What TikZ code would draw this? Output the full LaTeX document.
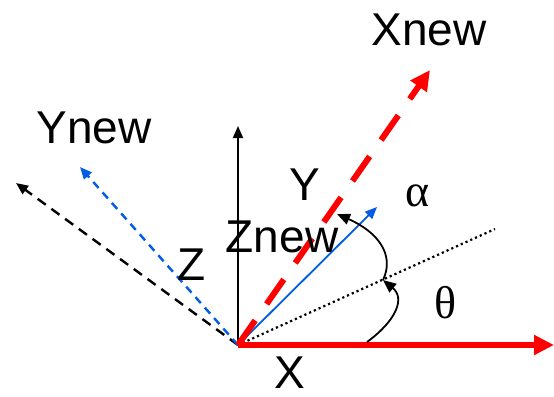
\documentclass[tikz,border=0pt]{standalone}
\usepackage{fontspec}
\setmainfont{Liberation Sans}
\newfontfamily\greekserif{Liberation Serif}
\usetikzlibrary{arrows.meta}
\tikzset{
  lbl/.style={font=\fontsize{46bp}{50bp}\selectfont, inner sep=0pt, text=black},
  glbl/.style={font=\greekserif\fontsize{46bp}{50bp}\selectfont, inner sep=0pt, text=black},
  thinarrow/.style={-{Triangle[length=12bp,width=10bp]}},
  redarrow/.style={red, line width=6bp, -{Triangle[length=20bp,width=19bp]}},
  anglearc/.style={black, line width=1.8bp, -{Triangle[length=13bp,width=11bp]}}
}
\begin{document}
\begin{tikzpicture}[x=1bp,y=-1bp]
\useasboundingbox (0,0) rectangle (554,396);
\coordinate (O) at (238,345);
\coordinate (xe) at (554,345);
\coordinate (xn) at (430,70);
\coordinate (zn) at (238,126);
\coordinate (yn) at (80,167);
\coordinate (z) at (16,183);
\coordinate (y) at (377,207);
\coordinate (d) at (495,229);
\coordinate (t1) at (367,342);
\coordinate (t2) at (383,280);
\coordinate (a2) at (337,214);

\draw[thinarrow, line width=1.8bp, black] (O) -- (zn);
\draw[thinarrow, line width=2.4bp, black, dash pattern=on 10bp off 7bp] (O) -- (z);
\draw[thinarrow, line width=2.4bp, blue!60!cyan!90!black, dash pattern=on 8bp off 6bp] (O) -- (yn);
\draw[line width=2.2bp, black, dash pattern=on 2.2bp off 3bp] (O) -- (d);
\draw[thinarrow, line width=1.8bp, blue!60!cyan!90!black] (O) -- (y);
\draw[redarrow] (O) -- (xe);
\draw[redarrow, dash pattern=on 30bp off 20bp] (O) -- (xn);
\draw[anglearc] (t1) .. controls (397,320) and (405,298) .. (t2);
\draw[anglearc] (t2) .. controls (395,255) and (378,232) .. (a2);

\node[lbl] (lxn) at (429,30) {Xnew};
\node[lbl] (lyn) at (94,128) {Ynew};
\node[lbl] (lz) at (192,265) {Z};
\node[lbl] (lzn) at (282,237) {Znew};
\node[lbl] (ly) at (305,185) {Y};
\node[lbl] (lx) at (290,373) {X};
\node[glbl] (la) at (418,196) {α};
\node[glbl] (lt) at (446,303) {θ};
\end{tikzpicture}
\end{document}
